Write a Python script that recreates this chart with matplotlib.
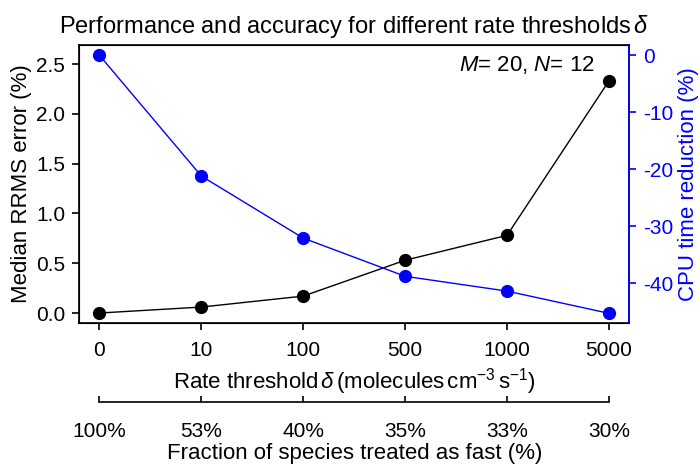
import numpy as np
import matplotlib.pyplot as plt

plt.rcParams['font.family'] = ['Liberation Sans', 'DejaVu Sans']
plt.rcParams['mathtext.fontset'] = 'custom'
plt.rcParams['mathtext.rm'] = 'Liberation Sans'
plt.rcParams['mathtext.it'] = 'Liberation Sans:italic'
plt.rcParams['font.size'] = 15

# data
thresholds = ['0', '10', '100', '500', '1000', '5000']
fractions = ['100%', '53%', '40%', '35%', '33%', '30%']
rrms_error = [0.0, 0.06, 0.17, 0.53, 0.78, 2.33]
cpu_reduction = [0.0, -21.2, -32.1, -38.8, -41.4, -45.3]

x = np.arange(len(thresholds))

fig = plt.figure(figsize=(7, 4.65), dpi=100)
ax = fig.add_axes([0.113, 0.3054, 0.786, 0.5976])
for s in ax.spines.values():
    s.set_linewidth(1.2)

ax.plot(x, rrms_error, color='black', marker='o', markersize=8.5, lw=1)
ax.set_xlim(-0.2, 5.2)
ax.set_ylim(-0.1, 2.69)
ax.set_yticks([0.0, 0.5, 1.0, 1.5, 2.0, 2.5])
ax.set_yticklabels(['0.0', '0.5', '1.0', '1.5', '2.0', '2.5'])
ax.set_xticks(x)
ax.set_xticklabels(thresholds)
ax.tick_params(length=5, width=1.2, pad=5)
ax.tick_params(axis='x', pad=8)
ax.set_ylabel('Median RRMS error (%)', fontsize=16, labelpad=3)
ax.set_xlabel(r'Rate threshold$\,\delta\,$(molecules$\,$cm$^{-3}\,$s$^{-1}$)', fontsize=16, labelpad=4)
ax.set_title(r'Performance and accuracy for different rate thresholds$\,\delta$', fontsize=17, pad=9)
ax.text(0.938, 0.928, r'$M$= 20, $N$= 12', transform=ax.transAxes,
        ha='right', va='center', fontsize=16)

# CPU time on right axis
ax_r = ax.twinx()
ax_r.plot(x, cpu_reduction, color='blue', marker='o', markersize=8.5, lw=1)
ax_r.set_ylim(-47, 1.8)
ax_r.set_yticks([0, -10, -20, -30, -40])
ax_r.set_yticklabels(['0', '-10', '-20', '-30', '-40'])
ax_r.set_ylabel('CPU time reduction (%)', color='blue', fontsize=16, labelpad=3)
ax_r.tick_params(axis='y', colors='blue', length=5, width=1.2, pad=5)
ax_r.spines['right'].set_color('blue')
ax_r.spines['right'].set_linewidth(1.2)

# fraction of fast species as second x axis
ax_f = ax.twiny()
ax_f.set_xlim(ax.get_xlim())
ax_f.xaxis.set_ticks_position('bottom')
ax_f.xaxis.set_label_position('bottom')
ax_f.spines['bottom'].set_position(('outward', 57))
ax_f.spines['bottom'].set_bounds(0, 5)
ax_f.spines['bottom'].set_linewidth(1.2)
for s in ['top', 'left', 'right']:
    ax_f.spines[s].set_visible(False)
ax_f.set_xticks(x)
ax_f.set_xticklabels(fractions)
ax_f.tick_params(axis='x', direction='in', length=4.5, width=1.2, pad=14)
ax_f.set_xlabel('Fraction of species treated as fast (%)', fontsize=16, labelpad=2)

fig.savefig('out.png', dpi=100)
